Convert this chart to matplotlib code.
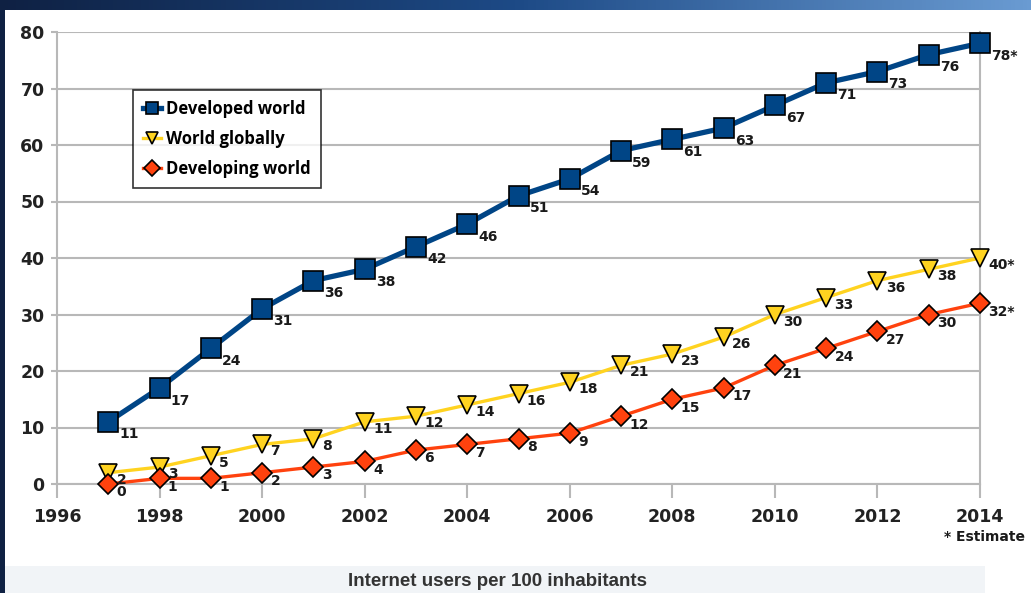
import numpy as np
import matplotlib
matplotlib.use("Agg")
import matplotlib.pyplot as plt
from matplotlib.patches import Rectangle

## datos
years = list(range(1997, 2015))
developed = [11, 17, 24, 31, 36, 38, 42, 46, 51, 54, 59, 61, 63, 67, 71, 73, 76, 78]
world = [2, 3, 5, 7, 8, 11, 12, 14, 16, 18, 21, 23, 26, 30, 33, 36, 38, 40]
developing = [0, 1, 1, 2, 3, 4, 6, 7, 8, 9, 12, 15, 17, 21, 24, 27, 30, 32]
estimated = [2014]

xticks = list(range(1996, 2015, 2))
yticks = list(range(0, 81, 10))

W, H = 1031, 593
fig = plt.figure(figsize=(W / 100, H / 100), dpi=100)
fig.patch.set_facecolor("white")

## marco oscuro (arriba degradado, izquierda)
grad = np.linspace(0, 1, 256).reshape(1, -1)
cmap = matplotlib.colors.LinearSegmentedColormap.from_list(
    "band", ["#0f2143", "#1d4a86", "#6a9bd2"])
bax = fig.add_axes([0, 1 - 10 / H, 1, 10 / H])
bax.imshow(grad, aspect="auto", cmap=cmap)
bax.axis("off")
fig.patches.append(Rectangle((0, 0), 5 / W, 1, transform=fig.transFigure,
                             facecolor="#0f2143", edgecolor="none", zorder=0))
fig.patches.append(Rectangle((5 / W, 0), 980 / W, 27 / H, transform=fig.transFigure,
                             facecolor="#f1f4f7", edgecolor="none", zorder=0))

ax = fig.add_axes([57 / W, 1 - 484 / H, 923 / W, 452 / H])
ax.set_xlim(1996, 2014)
ax.set_ylim(0, 80)
ax.set_xticks(xticks)
ax.set_yticks(yticks)
ax.grid(axis="y", color="#b8b8b8", lw=1.5, zorder=0)
for s in ["left", "bottom", "right"]:
    ax.spines[s].set_color("#b8b8b8")
    ax.spines[s].set_linewidth(1.5)
ax.spines["top"].set_visible(False)
ax.tick_params(axis="x", length=10, width=1.5, color="#b8b8b8", pad=7,
               labelsize=12.5, labelcolor="#222222")
ax.tick_params(axis="y", length=4, width=1.5, color="#b8b8b8", pad=5,
               labelsize=12.5, labelcolor="#222222")
for lab in ax.get_xticklabels() + ax.get_yticklabels():
    lab.set_fontweight("bold")

series = [
    ("Developed world", developed, "#004586", "s", 14, 3.8, (8, -4)),
    ("World globally", world, "#ffd320", "v", 13, 2.4, (6, 0)),
    ("Developing world", developing, "#ff420e", "D", 10, 2.4, (6, -1)),
]
for name, vals, col, mk, ms, lw, off in series:
    ax.plot(years, vals, color=col, lw=lw, marker=mk, ms=ms,
            markerfacecolor=col, markeredgecolor="black", markeredgewidth=1.2,
            label=name, zorder=3, clip_on=False)
    for x, v in zip(years, vals):
        txt = str(v) + ("*" if x in estimated else "")
        ax.annotate(txt, (x, v), xytext=off, textcoords="offset points",
                    ha="left", va="top", fontsize=10, fontweight="bold",
                    color="#1a1a1a", zorder=4, annotation_clip=False)

leg = ax.legend(loc="upper left", bbox_to_anchor=(76 / 923, 394 / 452),
                prop={"family": "Open Sans", "weight": "bold", "size": 12},
                frameon=True, fancybox=False, handlelength=1.1,
                handletextpad=0.3, borderpad=0.6, labelspacing=0.72,
                borderaxespad=0)
leg.get_frame().set_edgecolor("black")
leg.get_frame().set_linewidth(1.2)
for h in leg.legend_handles:
    h.set_markersize(8)

fig.text(985 / W, 1 - 537 / H, "* Estimate", ha="center", va="center",
         fontsize=10, fontweight="bold", color="#1a1a1a")
fig.text(498 / W, 1 - 581 / H, "Internet users per 100 inhabitants",
         ha="center", va="center", fontsize=13.5, fontweight="bold",
         family="Liberation Sans", color="#333333")

fig.savefig("out.png", dpi=100)
